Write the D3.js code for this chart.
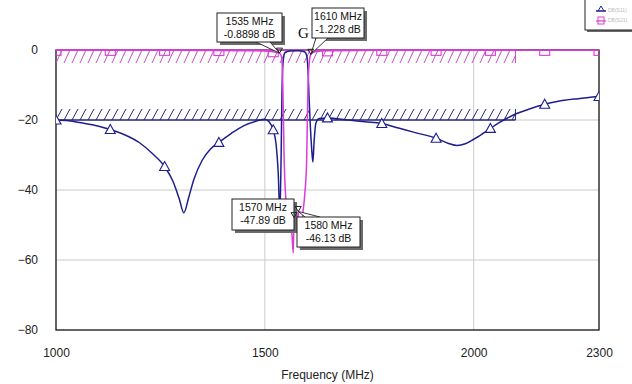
<!DOCTYPE html>
<html>
<head>
<meta charset="utf-8">
<script src="https://cdn.jsdelivr.net/npm/d3@7"></script>
<style>
  body { margin: 0; background: #fff; }
  svg { display: block; font-family: "Liberation Sans", Arial, sans-serif; }
</style>
</head>
<body>
<svg id="chart"></svg>
<script>
// S11 trace (blue)
const s11Freq = [1000, 1030, 1060, 1100, 1130, 1160, 1200, 1230, 1260, 1280, 1295, 1306, 1318, 1330, 1350, 1370, 1390,
  1420, 1450, 1480, 1500, 1510, 1520, 1527, 1532, 1536, 1539, 1541, 1544, 1548, 1560, 1580, 1595, 1600, 1603,
  1606, 1609, 1612, 1615, 1618, 1622, 1630, 1650, 1700, 1740, 1780, 1820, 1860, 1910, 1940, 1960, 1980, 2000,
  2020, 2040, 2060, 2080, 2100, 2130, 2170, 2200, 2250, 2300];
const s11Db = [-20.0, -20.2, -20.8, -21.7, -22.7, -24.0, -26.5, -29.5, -33.3, -37.5, -42.5, -46.5, -42.0, -37.0, -31.5,
  -28.3, -26.4, -23.8, -21.6, -20.3, -19.8, -20.5, -22.8, -27, -35, -47, -30, -12, -3, -0.8, -0.3, -0.2, -0.5,
  -1.5, -5, -14, -22, -28, -32, -26, -21, -19.6, -19.4, -20.0, -20.5, -21.0, -22.3, -23.6, -25.2, -26.7, -27.3,
  -26.8, -25.5, -24.0, -22.4, -20.8, -19.5, -18.3, -17.0, -15.5, -14.7, -13.9, -13.3];

// S21 trace (magenta)
const s21Freq = [1000, 1130, 1260, 1390, 1450, 1500, 1520, 1535, 1540, 1543, 1546, 1550, 1555, 1560, 1565, 1568,
  1570, 1575, 1580, 1585, 1590, 1595, 1600, 1603, 1606, 1610, 1620, 1650, 1780, 1910, 2040, 2170, 2300];
const s21Db = [-0.1, -0.1, -0.1, -0.15, -0.2, -0.3, -0.5, -0.89, -2, -10, -30, -42, -46, -50, -53, -58,
  -47.89, -52, -46.13, -57, -48, -42, -32, -12, -4, -1.23, -0.5, -0.25, -0.1, -0.1, -0.1, -0.1, -0.1];

// symbol positions along the traces
const symFreq = [1000, 1130, 1260, 1390, 1520, 1650, 1780, 1910, 2040, 2170, 2300];
const s11SymDb = [-20.0, -22.7, -33.3, -26.4, -22.8, -19.4, -21.0, -25.2, -22.4, -15.5, -13.3];
const s21SymDb = [-0.1, -0.1, -0.1, -0.15, -0.5, -0.25, -0.1, -0.1, -0.1, -0.1, -0.1];

// spec masks
const maskStart = 1000, maskEnd = 2100;
const s21Mask = 0, s11Mask = -20;

// marker readouts
const markerFreq = [1535, 1610, 1570, 1580];
const markerDb = [-0.8898, -1.228, -47.89, -46.13];
const markerText = [["1535 MHz", "-0.8898 dB"], ["1610 MHz", "-1.228 dB"], ["1570 MHz", "-47.89 dB"], ["1580 MHz", "-46.13 dB"]];

const xTicks = [1000, 1500, 2000, 2300];
const yTicks = [0, -20, -40, -60, -80];
const xTitle = "Frequency (MHz)";
const legendNames = ["DB(S11)", "DB(S21)"];

const width = 632, height = 384;
const margin = { top: 50, right: 33, bottom: 54, left: 56 };
const blue = "#1e1e8e", pink = "#dd3add";

const svg = d3.select("#chart").attr("width", width).attr("height", height);

const x = d3.scaleLinear().domain([1000, 2300]).range([margin.left, width - margin.right]);
const y = d3.scaleLinear().domain([-80, 0]).range([height - margin.bottom, margin.top]);

svg.append("defs").append("clipPath").attr("id", "plot")
  .append("rect")
  .attr("x", x(1000)).attr("y", y(0) - 1)
  .attr("width", x(2300) - x(1000)).attr("height", y(-80) - y(0) + 2);

// grid
svg.append("g").selectAll("line").data([1500, 2000]).join("line")
  .attr("x1", d => x(d)).attr("x2", d => x(d))
  .attr("y1", y(0)).attr("y2", y(-80))
  .attr("stroke", "#cacaca");
svg.append("g").selectAll("line").data([-20, -40, -60]).join("line")
  .attr("x1", x(1000)).attr("x2", x(2300))
  .attr("y1", d => y(d)).attr("y2", d => y(d))
  .attr("stroke", "#cacaca");

// frame
svg.append("rect")
  .attr("x", x(1000)).attr("y", y(0))
  .attr("width", x(2300) - x(1000)).attr("height", y(-80) - y(0))
  .attr("fill", "none").attr("stroke", "#111").attr("stroke-width", 1.3);

// axes
svg.append("g")
  .attr("transform", `translate(${margin.left},0)`)
  .call(d3.axisLeft(y).tickValues(yTicks).tickSize(0).tickPadding(18))
  .call(g => g.select(".domain").remove())
  .selectAll("text").attr("font-size", 12).attr("fill", "#222").attr("font-family", "Liberation Sans, Arial");

svg.append("g")
  .attr("transform", `translate(0,${height - margin.bottom})`)
  .call(d3.axisBottom(x).tickValues(xTicks).tickFormat(d3.format("d")).tickSize(0).tickPadding(18))
  .call(g => g.select(".domain").remove())
  .selectAll("text").attr("font-size", 12).attr("fill", "#222").attr("font-family", "Liberation Sans, Arial");

svg.append("text")
  .attr("x", (x(1000) + x(2300)) / 2).attr("y", 379)
  .attr("text-anchor", "middle").attr("font-size", 12).attr("fill", "#222")
  .text(xTitle);

// hatched spec masks
function drawMask(level, top, bottom, color) {
  const g = svg.append("g");
  const x0 = x(maskStart), x1 = x(maskEnd);
  const yTop = y(level) + top, yBot = y(level) + bottom;
  const cid = "m" + Math.abs(level);
  svg.select("defs").append("clipPath").attr("id", cid)
    .append("rect").attr("x", x0).attr("y", yTop).attr("width", x1 - x0).attr("height", yBot - yTop);
  g.append("g").attr("clip-path", `url(#${cid})`)
    .selectAll("line").data(d3.range(x0 - 8, x1 + 8, 8)).join("line")
    .attr("x1", d => d).attr("y1", yBot)
    .attr("x2", d => d + 6).attr("y2", yTop)
    .attr("stroke", color).attr("stroke-width", 1);
  g.append("line").attr("x1", x0).attr("x2", x1).attr("y1", y(level)).attr("y2", y(level))
    .attr("stroke", color).attr("stroke-width", 1.4);
  g.append("line").attr("x1", x1).attr("x2", x1).attr("y1", yTop).attr("y2", yBot)
    .attr("stroke", color).attr("stroke-width", 1);
}
drawMask(s21Mask, 0, 13, "#c24fc2");
drawMask(s11Mask, -11, 0, "#2a2a78");

// traces
const line = d3.line().x(d => x(d[0])).y(d => y(d[1])).curve(d3.curveMonotoneX);
const traces = svg.append("g").attr("clip-path", "url(#plot)");

traces.append("path")
  .datum(d3.zip(s11Freq, s11Db))
  .attr("d", line).attr("fill", "none").attr("stroke", blue).attr("stroke-width", 1.5);

traces.append("g").selectAll("path").data(d3.zip(symFreq, s11SymDb)).join("path")
  .attr("transform", d => `translate(${x(d[0])},${y(d[1])})`)
  .attr("d", "M0,-5L5,4L-5,4Z")
  .attr("fill", "#fff").attr("stroke", blue).attr("stroke-width", 1.1);

traces.append("path")
  .datum(d3.zip(s21Freq, s21Db))
  .attr("d", line).attr("fill", "none").attr("stroke", pink).attr("stroke-width", 1.5);

traces.append("g").selectAll("rect").data(d3.zip(symFreq, s21SymDb)).join("rect")
  .attr("x", d => x(d[0]) - 5).attr("y", d => y(d[1]) - 5)
  .attr("width", 10).attr("height", 10)
  .attr("fill", "none").attr("stroke", pink).attr("stroke-width", 1.1);

// partially hidden graph title
svg.append("text").attr("x", 298).attr("y", 38)
  .attr("font-family", "Liberation Serif, Times New Roman, serif").attr("font-size", 15).attr("fill", "#111")
  .text("G");

// marker callouts
const boxes = [
  { bx: 217, by: 13, w: 65, h: 29, tip: [256, 270], side: "bottom" },
  { bx: 312, by: 8, w: 52, h: 30, tip: [316, 328], side: "bottom" },
  { bx: 232, by: 199, w: 62, h: 31, tip: null },
  { bx: 297, by: 217, w: 63, h: 30, tip: [305, 320], side: "top" }
];
const callouts = svg.append("g");
markerFreq.forEach((f, i) => {
  const b = boxes[i];
  const mx = x(f), my = y(markerDb[i]);
  const g = callouts.append("g");
  g.append("rect").attr("x", b.bx + 3).attr("y", b.by + 3).attr("width", b.w).attr("height", b.h).attr("fill", "#6a6a6a");
  if (b.tip) {
    const ey = b.side === "bottom" ? b.by + b.h : b.by;
    g.append("path")
      .attr("d", `M${b.tip[0]},${ey}L${mx},${my}L${b.tip[1]},${ey}`)
      .attr("fill", "#fff").attr("stroke", "#222").attr("stroke-width", 0.9);
  }
  g.append("rect").attr("x", b.bx).attr("y", b.by).attr("width", b.w).attr("height", b.h)
    .attr("fill", "#fff").attr("stroke", "#222").attr("stroke-width", 1);
  g.selectAll("text").data(markerText[i]).join("text")
    .attr("x", b.bx + b.w / 2).attr("y", (d, j) => b.by + 12 + j * 13)
    .attr("text-anchor", "middle").attr("font-size", 10.5).attr("fill", "#111")
    .text(d => d);
  g.append("path").attr("transform", `translate(${mx},${my})`)
    .attr("d", "M-3,-5L3,-5L0,0Z").attr("fill", "none").attr("stroke", "#222").attr("stroke-width", 1);
});

// legend (box runs off the window edge)
const leg = svg.append("g");
leg.append("rect").attr("x", 587).attr("y", -3).attr("width", 60).attr("height", 35).attr("fill", "#6a6a6a");
leg.append("rect").attr("x", 585).attr("y", -4).attr("width", 60).attr("height", 34)
  .attr("fill", "#fff").attr("stroke", "#222").attr("stroke-width", 1);
leg.append("line").attr("x1", 596).attr("x2", 606).attr("y1", 11).attr("y2", 11).attr("stroke", blue).attr("stroke-width", 1.5);
leg.append("path").attr("d", "M598,11L601,6L604,11").attr("fill", "none").attr("stroke", blue);
leg.append("line").attr("x1", 596).attr("x2", 606).attr("y1", 21).attr("y2", 21).attr("stroke", pink).attr("stroke-width", 1.2);
leg.append("rect").attr("x", 598).attr("y", 17).attr("width", 6).attr("height", 7).attr("fill", "none").attr("stroke", pink);
leg.selectAll("text.l").data(legendNames).join("text")
  .attr("x", 608).attr("y", (d, i) => 12 + i * 10)
  .attr("font-size", 5).attr("fill", "#bbb").text(d => d);
</script>
</body>
</html>
